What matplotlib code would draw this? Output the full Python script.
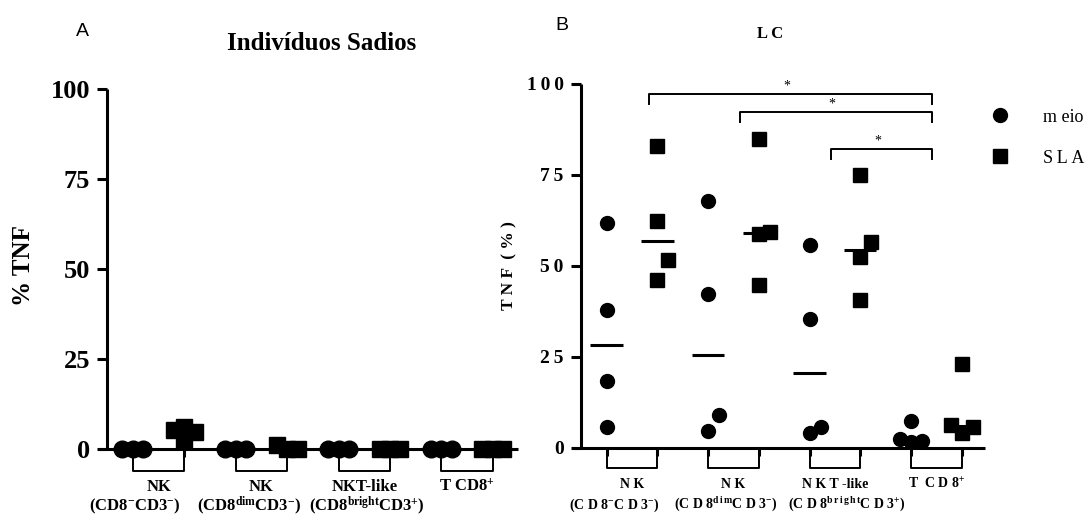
import matplotlib
matplotlib.use("Agg")
import matplotlib.pyplot as plt
import matplotlib.transforms as mtransforms
from matplotlib.lines import Line2D
import numpy as np

plt.rcParams.update({
    "font.family": ["Liberation Serif", "DejaVu Serif"],
    "mathtext.fontset": "custom",
    "mathtext.rm": "Liberation Serif:bold",
    "mathtext.it": "Liberation Serif:bold",
    "mathtext.bf": "Liberation Serif:bold",
})

# ---- data -----------------------------------------------------------
# panel A: Indivíduos Sadios, % TNF per group (meio / SLA)
a_meio = [[0, 0, 0], [0, 0, 0], [0, 0, 0], [0, 0, 0]]
a_sla = [[2.2, 4.7, 5.3, 6.1], [0.0, 0.1, 1.0], [0, 0, 0], [0, 0, 0]]

# panel B: LC
b_meio = [[61.6, 37.8, 18.4, 5.6], [67.7, 42.2, 8.8, 4.4],
          [55.7, 35.3, 5.6, 4.0], [7.2, 2.4, 1.5, 1.7]]
b_sla = [[82.7, 62.2, 51.4, 46.1], [84.8, 59.3, 58.7, 44.7],
         [75.0, 56.4, 52.3, 40.4], [23.0, 6.3, 5.6, 3.9]]

y_ticks = [0, 25, 50, 75, 100]

a_top = ["NK", "NK", "NKT-like", r"T CD8$^{+}$"]
a_bottom = [r"(CD8$^{-}$CD3$^{-}$)", r"(CD8$^{\mathrm{dim}}$CD3$^{-}$)",
            r"(CD8$^{\mathrm{bright}}$CD3$^{+}$)", ""]

T = "\u2009"
b_top = ["N K", "N K", "N K T -like", r"T  C D 8$^{+}$"]
b_bottom = [r"(C D 8$^{-}$C D 3$^{-}$)",
            r"(C D 8$^{\mathrm{d\,i\,m}}$C D 3$^{-}$)",
            r"(C D 8$^{\mathrm{b\,r\,i\,g\,h\,t}}$C D 3$^{+}$)", ""]

# sideways nudge (px) of the second label line, as laid out in the original
a_bottom_shift = [-24, -12, 3, 0]
b_bottom_shift = [-18, -8, 12, 0]

# significance brackets in panel B: (x start, x end, y line, y leg)
sig_brackets = [(0.83, 6.42, 97.0, 94.3),
                (2.63, 6.42, 92.1, 89.3),
                (4.42, 6.42, 81.9, 79.2)]

W, H = 1089, 518
fig = plt.figure(figsize=(W / 100, H / 100), dpi=100)


def px_axes(l, t, r, b):
    return fig.add_axes([l / W, 1 - b / H, (r - l) / W, (b - t) / H])


def spaced(s):
    return T.join(s)


def swarm(vals, unit_px, gap_px, step):
    # simple column-scatter: points too close vertically get pushed sideways
    vals = np.asarray(vals, float)
    offs = np.zeros(len(vals))
    slots = {}
    for k in np.argsort(vals, kind="stable"):
        for j in (0, 1, -1, 2, -2):
            if all(abs(vals[k] - v) * unit_px >= gap_px for v in slots.get(j, [])):
                slots.setdefault(j, []).append(vals[k])
                offs[k] = j * step
                break
    return offs


def setup(ax, xlim, yaxis_x, tick_fs, tick_pad, spaced_ticks=False):
    ax.set_xlim(*xlim)
    ax.set_ylim(0, 100)
    for s in ("top", "right"):
        ax.spines[s].set_visible(False)
    for s in ("left", "bottom"):
        ax.spines[s].set_linewidth(2.2)
        ax.spines[s].set_capstyle("butt")
    ax.spines["left"].set_position(("data", yaxis_x))
    ax.set_yticks(y_ticks)
    labels = [spaced(str(t)) for t in y_ticks] if spaced_ticks else [str(t) for t in y_ticks]
    ax.set_yticklabels(labels, fontsize=tick_fs, fontweight="bold")
    ax.set_xticks(range(8))
    ax.set_xticklabels([])
    ax.tick_params(axis="y", direction="out", length=7, width=2.2, pad=tick_pad)
    ax.tick_params(axis="x", direction="out", length=5.5, width=2.2)
    ax.patch.set_alpha(0)


def draw_groups(ax, meio, sla, unit_px, gap_px, step, ms, bracket_y):
    for g in range(4):
        for col, vals, mk in ((2 * g, meio[g], "o"), (2 * g + 1, sla[g], "s")):
            offs = swarm(vals, unit_px, gap_px, step)
            med = np.median(vals)
            ax.plot([col - 0.32, col + 0.32], [med, med], color="black", lw=2.2,
                    solid_capstyle="butt", zorder=3, clip_on=False)
            ax.plot(col + offs, vals, ls="none", marker=mk, ms=ms, color="black",
                    zorder=4, clip_on=False)
        x0, x1 = 2 * g, 2 * g + 1
        ax.plot([x0, x0, x1, x1], [0, bracket_y, bracket_y, 0], color="black",
                lw=1.4, clip_on=False, zorder=2)


def group_labels(ax, top, bottom, shift, col_px, y_top, y_bot, fs):
    tr = mtransforms.blended_transform_factory(ax.transData, fig.transFigure)
    for g in range(4):
        xc = 2 * g + 0.5
        ax.text(xc, 1 - y_top / H, top[g], transform=tr, ha="center",
                va="center", fontsize=fs, fontweight="bold")
        if bottom[g]:
            ax.text(xc + shift[g] / col_px, 1 - y_bot / H, bottom[g], transform=tr,
                    ha="center", va="center", fontsize=fs, fontweight="bold")


# ---- panel A ----------------------------------------------------------
ax_a = px_axes(98, 89, 518, 449)
setup(ax_a, (-0.68, 7.49), -0.506, 19, 5)
draw_groups(ax_a, a_meio, a_sla, 3.6, 13, 0.204, 12, -6.1)
group_labels(ax_a, a_top, a_bottom, a_bottom_shift, 51.4, 487, 506, 12)
fig.text(24 / W, 1 - 265 / H, "% TNF", rotation=90, ha="center", va="center",
         fontsize=18, fontweight="bold")
fig.text(322 / W, 1 - 43 / H, "Indivíduos Sadios", ha="center", va="center",
         fontsize=18, fontweight="bold")
fig.text(82 / W, 1 - 31 / H, "A", ha="center", va="center", fontsize=14,
         family="Liberation Sans")

# ---- panel B ----------------------------------------------------------
ax_b = px_axes(572, 83.5, 985, 447.5)
setup(ax_b, (-0.684, 7.46), -0.505, 14, 5.5, spaced_ticks=True)
draw_groups(ax_b, b_meio, b_sla, 3.64, 20, 0.217, 10, -5.6)
group_labels(ax_b, b_top, b_bottom, b_bottom_shift, 50.7, 484, 505, 10)

for x0, x1, y, yl in sig_brackets:
    ax_b.plot([x0, x0, x1, x1], [yl, y, y, yl], color="black", lw=1.4,
              clip_on=False, zorder=2)
    ax_b.text((x0 + x1) / 2 - 0.08, y + 0.4, "*", ha="center", va="bottom",
              fontsize=10)

fig.text(509 / W, 1 - 266 / H, "T N F  ( % )", rotation=90, ha="center",
         va="center", fontsize=12.5, fontweight="bold")
fig.text(770 / W, 1 - 34 / H, "L C", ha="center", va="center", fontsize=12,
         fontweight="bold")
fig.text(562 / W, 1 - 25 / H, "B", ha="center", va="center", fontsize=14,
         family="Liberation Sans")

# legend
for y, mk, lbl in ((115, "o", "m eio"), (156, "s", spaced("SLA"))):
    fig.add_artist(Line2D([1000 / W], [1 - y / H], marker=mk, ms=10, color="black",
                          ls="none", transform=fig.transFigure))
    fig.text(1043 / W, 1 - (y + 7) / H, lbl, ha="left", va="baseline", fontsize=13)

fig.savefig("out.png", dpi=100)
